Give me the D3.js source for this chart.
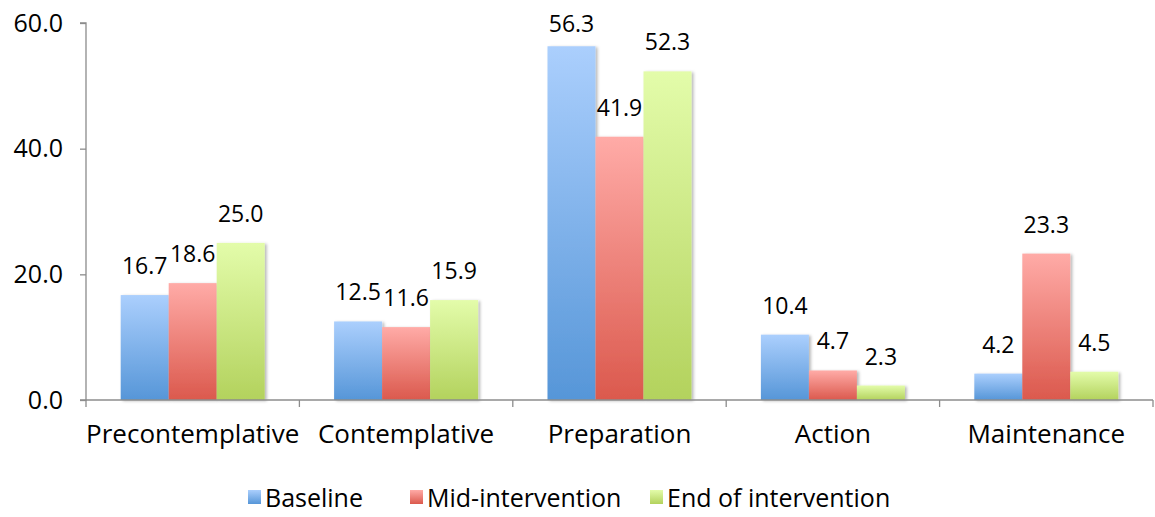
<!DOCTYPE html>
<html>
<head>
<meta charset="utf-8">
<script src="https://cdn.jsdelivr.net/npm/d3@7"></script>
<style>
  html, body { margin: 0; padding: 0; background: #fff; }
  svg { display: block; font-family: "Open Sans", "Noto Sans", sans-serif; }
</style>
</head>
<body>
<svg id="chart" width="1155" height="517"></svg>
<script>
// Stages of change, percentage of participants at each measurement point
const categories = ["Precontemplative", "Contemplative", "Preparation", "Action", "Maintenance"];
const seriesNames = ["Baseline", "Mid-intervention", "End of intervention"];
const baseline = [16.7, 12.5, 56.3, 10.4, 4.2];
const midIntervention = [18.6, 11.6, 41.9, 4.7, 23.3];
const endIntervention = [25.0, 15.9, 52.3, 2.3, 4.5];
const yTicks = [0, 20, 40, 60];

const seriesValues = [baseline, midIntervention, endIntervention];
const gradStops = [
  ["#abcffd", "#5696d8"],
  ["#ffaba7", "#db594d"],
  ["#e3fcaa", "#b3d25d"]
];

const svg = d3.select("#chart");
const plot = { left: 86, right: 1153, top: 23, bottom: 400 };

const y = d3.scaleLinear().domain([0, 60]).range([plot.bottom, plot.top]);
const x0 = d3.scaleBand().domain(categories).range([plot.left, plot.right]);
const x1 = d3.scaleBand().domain(seriesNames).range([0, x0.bandwidth()]).paddingOuter(0.723);

const defs = svg.append("defs");
seriesNames.forEach((s, i) => {
  const g = defs.append("linearGradient")
    .attr("id", "grad" + i).attr("x1", 0).attr("y1", 0).attr("x2", 0).attr("y2", 1);
  g.append("stop").attr("offset", "0%").attr("stop-color", gradStops[i][0]);
  g.append("stop").attr("offset", "100%").attr("stop-color", gradStops[i][1]);
});
const shadow = defs.append("filter").attr("id", "shadow")
  .attr("x", "-20%").attr("y", "-20%").attr("width", "150%").attr("height", "150%");
shadow.append("feDropShadow").attr("dx", 2).attr("dy", 1).attr("stdDeviation", 1.5)
  .attr("flood-color", "#000").attr("flood-opacity", 0.28);

// Rows of data: one per category and series
const rows = [];
categories.forEach((c, ci) => {
  seriesNames.forEach((s, si) => rows.push({ cat: c, series: s, si, value: seriesValues[si][ci] }));
});

// Bars
svg.append("g").selectAll("rect").data(rows).join("rect")
  .attr("x", d => x0(d.cat) + x1(d.series))
  .attr("y", d => y(d.value))
  .attr("width", x1.bandwidth())
  .attr("height", d => y(0) - y(d.value))
  .attr("fill", d => `url(#grad${d.si})`)
  .attr("filter", "url(#shadow)");

// Y axis
const yAxis = svg.append("g").attr("transform", `translate(${plot.left},0)`)
  .call(d3.axisLeft(y).tickValues(yTicks).tickFormat(d3.format(".1f")).tickSize(6).tickPadding(17));
yAxis.select(".domain").attr("stroke", "#8c8c8c").attr("stroke-width", 1.3)
  .attr("d", `M-6,${plot.top}H0V${plot.bottom}H-6`);
yAxis.selectAll(".tick line").attr("stroke", "#8c8c8c").attr("stroke-width", 1.3);
yAxis.selectAll(".tick text").attr("font-size", 25).attr("fill", "#000")
  .attr("font-family", "'Open Sans', sans-serif");

// X axis baseline with ticks between categories
const xg = svg.append("g");
xg.append("line").attr("x1", plot.left).attr("x2", plot.right)
  .attr("y1", y(0)).attr("y2", y(0)).attr("stroke", "#8c8c8c").attr("stroke-width", 1.3);
const boundaries = categories.map(c => x0(c)).concat([plot.right]);
xg.selectAll("line.tk").data(boundaries).join("line").attr("class", "tk")
  .attr("x1", d => d).attr("x2", d => d)
  .attr("y1", y(0)).attr("y2", y(0) + 7)
  .attr("stroke", "#8c8c8c").attr("stroke-width", 1.3);
xg.selectAll("text").data(categories).join("text")
  .attr("x", d => x0(d) + x0.bandwidth() / 2)
  .attr("y", 443)
  .attr("text-anchor", "middle")
  .attr("font-size", 26)
  .text(d => d);

// Value labels above bars
svg.append("g").selectAll("text").data(rows).join("text")
  .attr("x", d => x0(d.cat) + x1(d.series) + x1.bandwidth() / 2)
  .attr("y", d => Math.max(y(d.value) - 21, 32))
  .attr("text-anchor", "middle")
  .attr("font-size", 23)
  .text(d => d3.format(".1f")(d.value));

// Legend
const legendX = [248, 410, 650];
const legend = svg.append("g");
seriesNames.forEach((s, i) => {
  legend.append("rect").attr("x", legendX[i]).attr("y", 490).attr("width", 13).attr("height", 14)
    .attr("fill", `url(#grad${i})`);
  legend.append("text").attr("x", legendX[i] + 17).attr("y", 507)
    .attr("font-size", 25).text(s);
});
</script>
</body>
</html>
